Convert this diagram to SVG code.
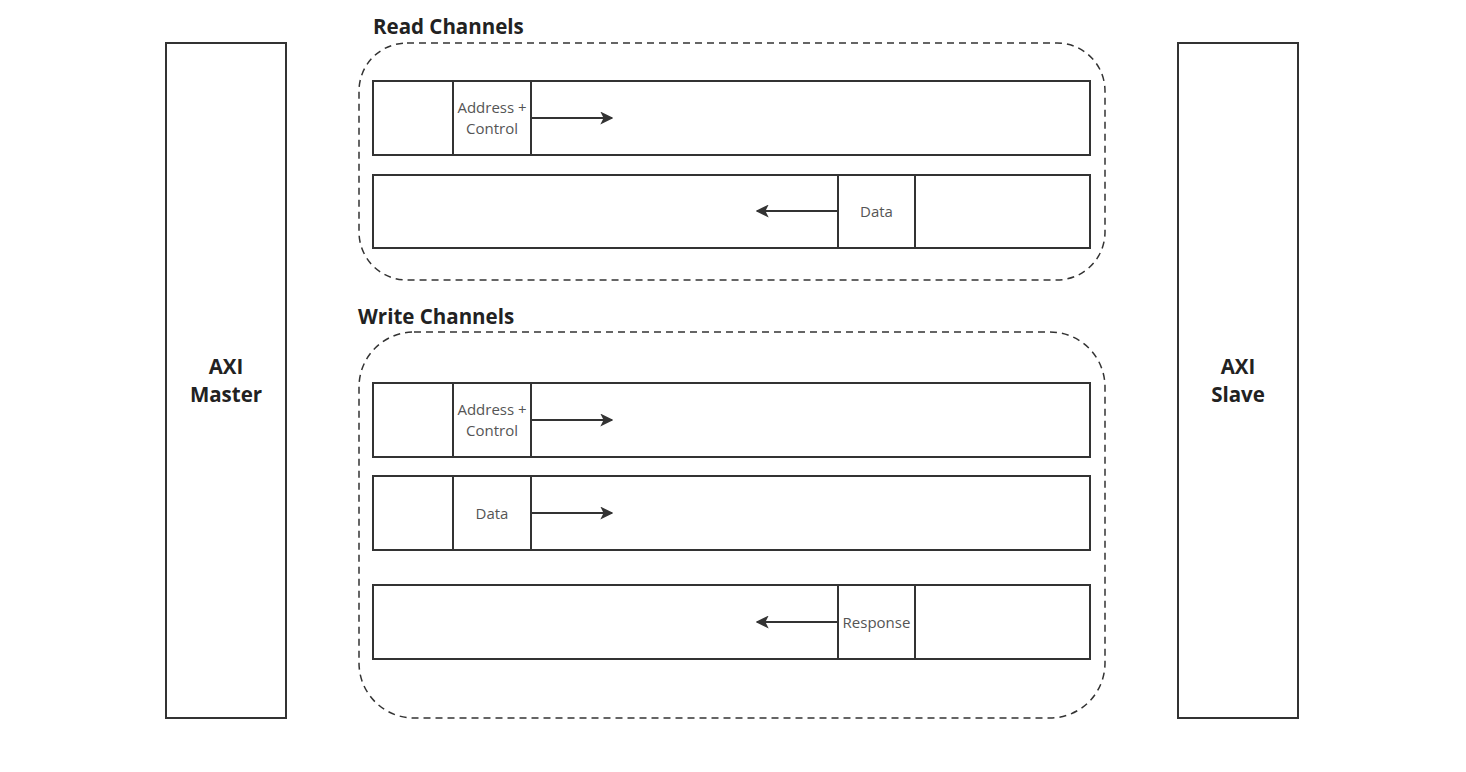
<svg xmlns="http://www.w3.org/2000/svg" width="1466" height="772" viewBox="0 0 1466 772">
<defs>
<style>
.box{fill:#fff;stroke:#333;stroke-width:2}
.grp{fill:none;stroke:#333;stroke-width:1.5;stroke-dasharray:7 5}
.title{font-family:"Open Sans",sans-serif;font-weight:bold;font-size:20.5px;fill:#222}
.big{font-family:"Open Sans",sans-serif;font-weight:bold;font-size:20.5px;fill:#222;text-anchor:middle}
.lbl{font-family:"Open Sans",sans-serif;font-size:15px;fill:#555;text-anchor:middle}
.conn{stroke:#333;stroke-width:2;fill:none;marker-end:url(#ah)}
</style>
<marker id="ah" viewBox="0 0 10 10" refX="9" refY="5" markerWidth="6.5" markerHeight="6.5" markerUnits="strokeWidth" orient="auto">
<path d="M0,0 L10,5 L0,10 L2.5,5 Z" fill="#333"/>
</marker>
</defs>
<rect width="1466" height="772" fill="#fff"/>
<g id="master">
<rect class="box" x="166" y="43" width="120" height="675"/>
<text class="big" x="226" y="374">AXI</text>
<text class="big" x="226" y="402">Master</text>
</g>
<g id="slave">
<rect class="box" x="1178" y="43" width="120" height="675"/>
<text class="big" x="1238" y="374">AXI</text>
<text class="big" x="1238" y="402">Slave</text>
</g>
<g id="read-group">
<rect class="grp" x="359" y="43" width="746" height="237" rx="48" ry="48"/>
<text class="title" x="373" y="34">Read Channels</text>
</g>
<g id="write-group">
<rect class="grp" x="359" y="332" width="746" height="386" rx="55" ry="55"/>
<text class="title" x="358" y="324">Write Channels</text>
</g>
<g id="read-addr">
<rect class="box" x="373" y="81" width="717" height="74"/>
<rect class="box" x="453" y="81" width="78" height="74"/>
<text class="lbl" x="492" y="113">Address +</text>
<text class="lbl" x="492" y="134">Control</text>
</g>
<g id="read-data">
<rect class="box" x="373" y="175" width="717" height="73"/>
<rect class="box" x="838" y="175" width="77" height="73"/>
<text class="lbl" x="876.5" y="217">Data</text>
</g>
<g id="write-addr">
<rect class="box" x="373" y="383" width="717" height="74"/>
<rect class="box" x="453" y="383" width="78" height="74"/>
<text class="lbl" x="492" y="415">Address +</text>
<text class="lbl" x="492" y="436">Control</text>
</g>
<g id="write-data">
<rect class="box" x="373" y="476" width="717" height="74"/>
<rect class="box" x="453" y="476" width="78" height="74"/>
<text class="lbl" x="492" y="519">Data</text>
</g>
<g id="write-resp">
<rect class="box" x="373" y="585" width="717" height="74"/>
<rect class="box" x="838" y="585" width="77" height="74"/>
<text class="lbl" x="876.5" y="628">Response</text>
</g>
<g id="connectors">
<line class="conn" x1="532" y1="118" x2="612" y2="118"/>
<line class="conn" x1="837" y1="211" x2="757" y2="211"/>
<line class="conn" x1="532" y1="420" x2="612" y2="420"/>
<line class="conn" x1="532" y1="513" x2="612" y2="513"/>
<line class="conn" x1="837" y1="622" x2="757" y2="622"/>
</g>
</svg>
